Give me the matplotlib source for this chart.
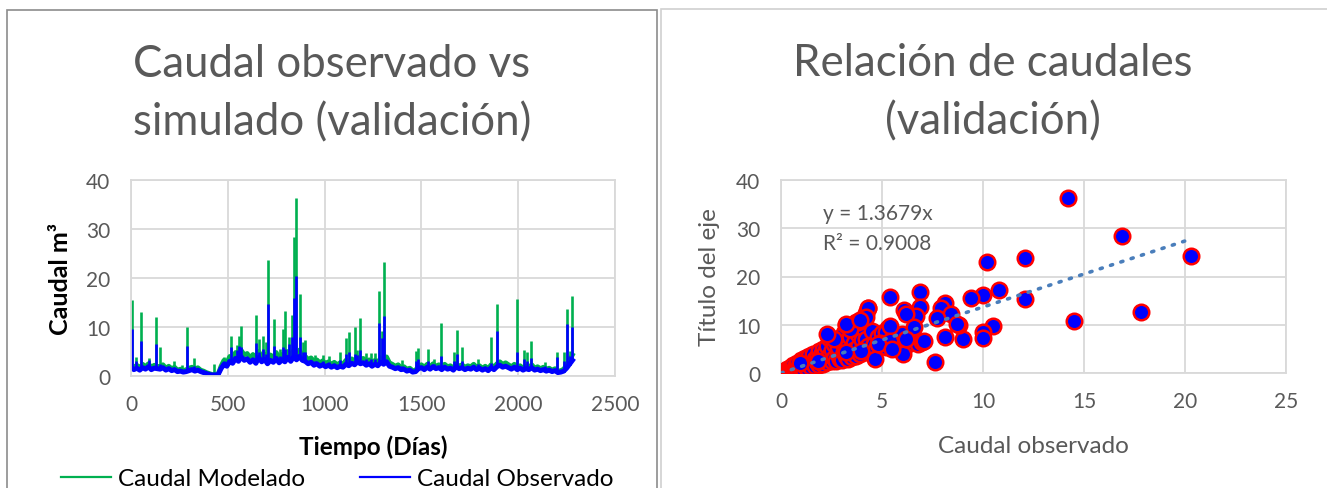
import matplotlib
matplotlib.use("Agg")
import matplotlib.pyplot as plt
import numpy as np
from matplotlib.lines import Line2D
from matplotlib.patches import Rectangle

plt.rcParams['font.family'] = ['Lato', 'DejaVu Sans']

# ---- serie temporal (linea base cada 15 dias) ----
dias_base = list(range(0, 2281, 15))
obs_base = [1.8, 1.3, 1.6, 1.2, 1.7, 1.4, 1.9, 1.3, 1.6, 1.5,
            1.4, 1.7, 1.2, 1.5, 1.1, 1.3, 0.9, 1.0, 0.8, 0.9,
            1.1, 1.3, 1.0, 1.2, 0.9, 0.7, 0.5, 0.3, 0.2, 0.15,
            0.3, 1.5, 2.4, 2.0, 3.0, 2.6, 3.6, 3.0, 3.9, 3.2,
            3.5, 2.8, 3.3, 2.6, 3.8, 2.9, 3.4, 2.5, 3.2, 2.8,
            3.6, 2.7, 3.3, 2.9, 3.8, 3.0, 3.9, 3.3, 4.0, 3.2,
            3.0, 2.5, 2.8, 2.2, 2.5, 2.0, 2.3, 1.9, 2.2, 1.8,
            2.1, 1.7, 2.0, 1.8, 2.4, 2.1, 2.6, 2.3, 2.9, 2.5,
            2.7, 2.2, 2.5, 2.0, 2.4, 2.1, 2.8, 2.4, 2.9, 2.0,
            1.8, 1.5, 1.7, 1.3, 1.4, 1.0, 1.2, 0.8, 0.9, 1.5,
            1.7, 1.3, 1.8, 1.4, 1.9, 1.5, 1.7, 1.3, 1.8, 1.4,
            1.6, 1.2, 1.9, 1.5, 1.7, 1.3, 1.6, 1.4, 1.8, 1.3,
            1.6, 1.2, 1.5, 1.1, 1.7, 1.3, 1.9, 2.2, 1.8, 2.0,
            1.7, 1.4, 1.8, 1.3, 1.6, 1.2, 1.5, 1.3, 1.7, 1.2,
            1.4, 1.1, 1.3, 1.0, 1.2, 0.9, 1.1, 0.7, 0.8, 1.0,
            1.6, 2.4, 3.2]
mod_base = [2.3, 1.8, 2.2, 1.7, 2.4, 1.9, 2.5, 1.8, 2.2, 2.0,
            1.9, 2.3, 1.6, 2.0, 1.5, 1.8, 1.2, 1.4, 1.1, 1.3,
            1.6, 1.8, 1.4, 1.7, 1.2, 1.0, 0.7, 0.5, 0.3, 0.2,
            0.4, 2.0, 3.2, 2.7, 4.0, 3.5, 4.8, 4.0, 5.2, 4.3,
            4.6, 3.7, 4.4, 3.5, 5.0, 3.9, 4.5, 3.4, 4.3, 3.8,
            4.8, 3.6, 4.4, 3.9, 5.0, 4.0, 5.2, 4.4, 5.3, 4.3,
            4.0, 3.4, 3.7, 3.0, 3.3, 2.7, 3.1, 2.6, 2.9, 2.4,
            2.8, 2.3, 2.7, 2.4, 3.2, 2.8, 3.5, 3.1, 3.9, 3.4,
            3.6, 2.9, 3.3, 2.7, 3.2, 2.8, 3.7, 3.2, 3.9, 2.7,
            2.4, 2.0, 2.3, 1.7, 1.9, 1.4, 1.6, 1.1, 1.2, 2.0,
            2.3, 1.8, 2.4, 1.9, 2.5, 2.0, 2.3, 1.8, 2.4, 1.9,
            2.1, 1.6, 2.5, 2.0, 2.3, 1.8, 2.1, 1.9, 2.4, 1.8,
            2.1, 1.6, 2.0, 1.5, 2.3, 1.8, 2.5, 2.9, 2.4, 2.7,
            2.3, 1.9, 2.4, 1.8, 2.1, 1.6, 2.0, 1.8, 2.3, 1.6,
            1.9, 1.5, 1.8, 1.4, 1.6, 1.2, 1.5, 1.0, 1.1, 1.4,
            2.2, 3.2, 4.3]

# ---- picos (crecidas) ----
pico_dia = [5, 24, 53, 95, 131, 148, 223, 264, 291, 325, 427, 482, 516, 546, 560,
            570, 627, 647, 663, 680, 696, 709, 740, 769, 783, 797, 817, 830, 843, 850,
            875, 889, 898, 951, 994, 1025, 1077, 1112, 1126, 1155, 1167, 1183, 1215,
            1239, 1262, 1279, 1296, 1306, 1320, 1400, 1472, 1480, 1535, 1566, 1600,
            1669, 1683, 1712, 1792, 1857, 1888, 1996, 2030, 2047, 2066, 2138, 2201,
            2235, 2254, 2266, 2278]
pico_obs = [9.6, 3.0, 7.1, 3.3, 6.5, 2.5, 1.5, 1.2, 6.2, 2.0, 0.8, 3.0, 6.0, 5.4, 6.2,
            6.0, 3.5, 6.7, 5.0, 5.5, 4.5, 14.7, 6.2, 4.0, 6.0, 5.5, 6.5, 8.0, 16.0, 20.5,
            7.9, 5.0, 5.0, 3.0, 3.0, 2.8, 3.2, 4.5, 5.0, 4.5, 4.2, 5.3, 3.5,
            3.5, 3.5, 10.9, 7.8, 12.2, 3.0, 2.0, 3.0, 3.5, 3.0, 2.5, 4.1,
            3.0, 4.5, 3.0, 2.5, 2.7, 9.2, 5.0, 3.5, 3.0, 3.6, 2.0, 3.9,
            3.0, 10.6, 4.0, 10.1]
pico_mod = [15.6, 3.9, 13.0, 3.7, 12.1, 5.9, 3.0, 2.3, 9.9, 3.7, 2.4, 3.9, 8.1, 6.3, 8.2,
            10.3, 4.6, 12.5, 7.5, 8.1, 6.9, 23.7, 11.7, 5.5, 9.5, 13.3, 8.0, 12.4, 28.3, 36.3,
            16.7, 6.9, 7.3, 4.2, 4.3, 4.0, 5.0, 7.7, 8.9, 10.1, 5.3, 11.8, 4.7,
            4.7, 4.7, 17.3, 9.2, 23.2, 3.7, 3.2, 5.2, 5.8, 5.5, 3.5, 10.9,
            5.0, 9.3, 5.9, 3.5, 8.0, 14.6, 15.7, 5.4, 5.0, 7.2, 2.9, 5.0,
            4.8, 13.7, 5.2, 16.3]
pico_base = [1.5, 1.4, 1.4, 1.5, 1.5, 1.4, 1.2, 0.9, 1.0, 1.2, 0.2, 2.2, 2.8, 3.0, 3.2,
             3.4, 3.0, 3.0, 3.0, 3.0, 3.0, 3.0, 3.0, 3.0, 3.0, 3.2, 3.3, 3.4, 3.5, 3.5,
             3.5, 3.2, 3.0, 2.5, 2.2, 2.0, 1.9, 2.2, 2.3, 2.5, 2.6, 2.6, 2.4,
             2.3, 2.4, 2.5, 2.6, 2.6, 2.4, 1.4, 1.0, 1.2, 1.5, 1.6, 1.6,
             1.5, 1.5, 1.5, 1.5, 1.5, 1.8, 1.5, 1.4, 1.4, 1.4, 1.2, 1.0,
             0.9, 1.6, 2.2, 3.0]

# ---- dispersion observado vs modelado ----
sc_obs = [0.1, 0.15, 0.2, 0.25, 0.3, 0.3, 0.4, 0.45, 0.5, 0.5, 0.6, 0.6, 0.7, 0.7, 0.8,
          0.8, 0.9, 0.9, 1.0, 1.0, 1.1, 1.1, 1.2, 1.2, 1.3, 1.3, 1.4, 1.4, 1.5, 1.5,
          1.6, 1.6, 1.7, 1.7, 1.8, 1.8, 1.9, 1.9, 2.0, 2.0, 2.1, 2.1, 2.2, 2.2, 2.3,
          2.3, 2.4, 2.4, 2.5, 2.5, 2.6, 2.6, 2.7, 2.7, 2.8, 2.8, 2.9, 3.0, 3.0, 3.1,
          3.1, 3.2, 3.2, 3.3, 3.3, 3.4, 3.4, 3.5, 3.5, 3.6, 3.6, 3.7, 3.7, 3.8, 3.8,
          3.9, 3.9, 4.0, 4.0, 4.1, 4.2, 4.2, 4.3, 4.3, 4.4, 4.5, 4.6, 4.7, 4.8, 5.0,
          5.0, 5.2, 5.3, 5.5, 5.6, 5.8, 6.0, 6.3, 6.5, 6.8, 7.0,
          14.2, 16.9, 20.3, 10.2, 12.1, 10.8, 10.0, 9.4, 12.1, 17.8, 14.5, 10.5, 10.0,
          10.0, 9.0, 8.8, 8.1, 7.9, 8.4, 7.7, 8.1, 7.6, 6.9, 6.9, 6.7, 6.1, 6.2, 6.6,
          7.1, 6.05, 6.2, 5.4, 5.2, 5.4, 4.65, 4.3, 4.2, 3.8, 3.4, 3.2, 2.6, 2.3, 3.2,
          3.96, 4.9, 5.4, 4.8, 5.5, 3.9, 8.7, 1.85, 0.94]
sc_mod = [0.2, 0.3, 0.5, 0.2, 0.4, 0.8, 0.6, 1.0, 0.4, 1.3, 0.8, 1.6, 0.5, 1.2, 1.0,
          2.0, 0.7, 1.5, 1.1, 2.6, 1.8, 0.9, 1.4, 3.2, 2.2, 1.0, 1.7, 3.6, 2.5, 1.2,
          2.0, 4.0, 2.8, 1.5, 3.3, 2.2, 4.6, 1.6, 2.6, 3.8, 5.0, 1.9, 3.0, 4.3, 2.2,
          5.6, 3.5, 7.2, 2.5, 4.8, 6.0, 3.2, 2.4, 7.0, 4.0, 5.3, 3.0, 6.5, 2.7, 4.4,
          8.2, 3.5, 10.0, 5.5, 2.9, 7.5, 4.0, 9.0, 3.3, 6.2, 4.8, 10.5, 3.6, 8.0, 5.3,
          11.0, 4.0, 6.8, 9.5, 4.5, 12.4, 7.0, 13.4, 5.5, 4.2, 8.8, 6.0, 5.0, 7.5, 5.8,
          8.2, 5.4, 9.3, 7.0, 5.6, 6.5, 8.0, 6.0, 7.5, 6.0, 6.5,
          36.2, 28.3, 24.2, 23.1, 23.8, 17.3, 16.2, 15.5, 15.3, 12.6, 10.8, 9.8, 8.6,
          7.2, 7.1, 10.0, 14.5, 13.4, 12.3, 11.5, 7.4, 2.3, 16.7, 13.6, 11.9, 13.0, 12.2, 9.6,
          6.7, 4.0, 7.0, 15.7, 8.4, 9.8, 2.85, 13.4, 11.7, 10.6, 9.1, 10.2, 7.05, 8.1, 4.3,
          4.6, 6.3, 6.7, 6.0, 5.0, 11.0, 10.2, 2.55, 2.1]
pendiente = 1.3679

verde = '#00B050'
azul = '#0000FF'
gris = '#595959'
rejilla = '#D9D9D9'

W, H = 1327, 489
fig = plt.figure(figsize=(W / 100, H / 100), dpi=100)
fig.patch.set_facecolor('white')

# marcos de los graficos
fig.add_artist(Rectangle((7 / W, -0.05), 650 / W, 1 - 10.5 / H + 0.05, transform=fig.transFigure,
                         fill=False, edgecolor='#8C8C8C', lw=1.2))
fig.add_artist(Rectangle((661 / W, -0.05), 700 / W, 1 - 9.5 / H + 0.05, transform=fig.transFigure,
                         fill=False, edgecolor='#D0D0D0', lw=1.2))


def estilo(ax):
    for s in ax.spines.values():
        s.set_color(rejilla)
        s.set_linewidth(1.3)
    ax.grid(True, color=rejilla, lw=1.3)
    ax.set_axisbelow(True)
    ax.tick_params(length=0, colors=gris, labelsize=15)
    ax.tick_params(axis='y', pad=15)
    ax.tick_params(axis='x', pad=13)


# ---- grafico izquierdo ----
ax1 = fig.add_axes([131 / W, 1 - 377 / H, 484 / W, 196 / H])
estilo(ax1)
ax1.plot(dias_base, mod_base, color=verde, lw=3.4)
ax1.vlines(pico_dia, pico_base, pico_mod, color=verde, lw=1.9)
ax1.plot(dias_base, obs_base, color=azul, lw=3.6)
ax1.vlines(pico_dia, pico_base, pico_obs, color=azul, lw=1.9)
ax1.set_xlim(0, 2500)
ax1.set_ylim(0, 40)
ax1.set_xticks([0, 500, 1000, 1500, 2000, 2500])
ax1.set_yticks([0, 10, 20, 30, 40])

fig.text(332 / W, 1 - 77 / H, 'Caudal observado vs', ha='center', va='baseline',
         fontsize=31.5, color=gris)
fig.text(332 / W, 1 - 135 / H, 'simulado (validación)', ha='center', va='baseline',
         fontsize=31.5, color=gris)
fig.text(373 / W, 1 - 455 / H, 'Tiempo (Días)', ha='center', va='baseline',
         fontsize=17.5, fontweight='bold', color='black')
fig.text(61 / W, 1 - 279 / H, 'Caudal m³', ha='center', va='center', rotation=90,
         fontsize=18, fontweight='bold', color='black')

# leyenda
yl = 1 - 478 / H
fig.add_artist(Line2D([61 / W, 111 / W], [yl, yl], color=verde, lw=1.6))
fig.text(118 / W, 1 - 486 / H, 'Caudal Modelado', ha='left', va='baseline', fontsize=17.5, color='black')
fig.add_artist(Line2D([360 / W, 410 / W], [yl, yl], color=azul, lw=1.6))
fig.text(417 / W, 1 - 486 / H, 'Caudal Observado', ha='left', va='baseline', fontsize=17.5, color='black')

# ---- grafico derecho ----
ax2 = fig.add_axes([781 / W, 1 - 374 / H, 505 / W, 193 / H])
estilo(ax2)
ax2.scatter(sc_obs, sc_mod, s=125, facecolor=azul, edgecolor='#FF0000', linewidth=1.8, zorder=3)
xt = np.array([0, max(sc_obs)])
ax2.plot(xt, pendiente * xt, color='#4A7EBB', lw=2.6, linestyle=(0, (0.6, 2.4)),
         dash_capstyle='round', zorder=4)
ax2.set_xlim(0, 25)
ax2.set_ylim(0, 40)
ax2.set_xticks([0, 5, 10, 15, 20, 25])
ax2.set_yticks([0, 10, 20, 30, 40])

fig.text(993 / W, 1 - 76 / H, 'Relación de caudales', ha='center', va='baseline',
         fontsize=31.5, color=gris)
fig.text(993 / W, 1 - 134 / H, '(validación)', ha='center', va='baseline',
         fontsize=31.5, color=gris)
fig.text(1033 / W, 1 - 453 / H, 'Caudal observado', ha='center', va='baseline',
         fontsize=17.5, color=gris)
fig.text(710 / W, 1 - 277 / H, 'Título del eje', ha='center', va='center', rotation=90,
         fontsize=17.5, color=gris)
fig.text(823 / W, 1 - 220 / H, 'y = %.4fx' % pendiente, ha='left', va='baseline',
         fontsize=15, color=gris)
fig.text(823 / W, 1 - 250 / H, 'R² = 0.9008', ha='left', va='baseline',
         fontsize=15, color=gris)

fig.savefig('out.png', dpi=100)
